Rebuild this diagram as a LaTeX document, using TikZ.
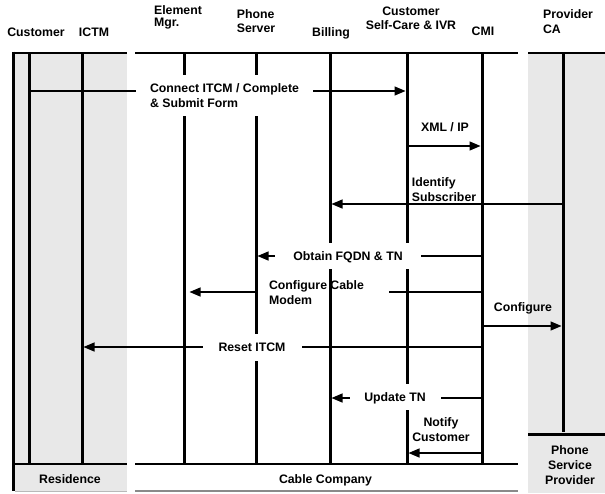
\documentclass[tikz,border=0pt]{standalone}
\usepackage{fontspec}
\setmainfont{Liberation Sans}
\usetikzlibrary{arrows.meta}
\definecolor{panel}{HTML}{E8E8E8}
\definecolor{baseln}{HTML}{8A8A8A}
\begin{document}
\begin{tikzpicture}[x=1pt,y=-1pt,
  txt/.style={font=\fontsize{12.3}{15}\selectfont\bfseries, inner sep=0pt},
  one/.style={txt, text depth=0pt},
  hdr/.style={font=\fontsize{12.3}{14}\selectfont\bfseries, inner sep=0pt},
  life/.style={line width=3pt},
  bar/.style={line width=2.8pt},
  msg/.style={line width=1.3pt, -{Triangle[length=11pt,width=9pt]}, shorten >=1.5pt},
  plainmsg/.style={line width=1.3pt},
  mask/.style={fill=white}]
\useasboundingbox (0,0) rectangle (605,493);
% panels
\fill[panel] (13,53) rectangle (127,491);
\fill[panel] (528,53) rectangle (605,493);
% lifeline anchors
\coordinate (bot) at (0,464);
\coordinate (pbot) at (0,432);
\coordinate (cust) at (29,53);
\coordinate (ictm) at (82,53);
\coordinate (elem) at (184,53);
\coordinate (phone) at (256,53);
\coordinate (bill) at (330,53);
\coordinate (scare) at (407,53);
\coordinate (cmi) at (482,53);
\coordinate (prov) at (563,53);
% lifelines
\foreach \l in {cust,ictm,elem,phone,bill,scare,cmi}
  \draw[life] (\l) -- (\l |- bot);
\draw[life] (prov) -- (prov |- pbot);
% message heights
\coordinate (m1) at (0,91);
\coordinate (m2) at (0,146);
\coordinate (m3) at (0,204);
\coordinate (m4) at (0,256);
\coordinate (m5) at (0,292);
\coordinate (m6) at (0,326);
\coordinate (m7) at (0,347);
\coordinate (m8) at (0,398);
\coordinate (m9) at (0,453);
% messages
\draw[msg] (cust |- m1) -- (scare |- m1);
\draw[msg] (scare |- m2) -- (cmi |- m2);
\draw[msg] (prov |- m3) -- (bill |- m3);
\draw[msg] (cmi |- m4) -- (phone |- m4);
\node[txt, align=left] (l5) at (316.5,292.5) {Configure Cable\\Modem};
\draw[plainmsg] (cmi |- m5) -- ([xshift=25pt]l5.east |- m5);
\draw[msg, shorten >=5.5pt] ([xshift=-11pt]l5.west |- m5) -- (elem |- m5);
\draw[msg] (cmi |- m6) -- (prov |- m6);
\draw[msg] (cmi |- m7) -- (ictm |- m7);
\draw[msg] (cmi |- m8) -- (bill |- m8);
\draw[msg] (cmi |- m9) -- (scare |- m9);
% labels
\node[txt, mask, align=left, inner xsep=14pt, inner ysep=8.5pt] (l1) at (224.5,95.8) {Connect ITCM / Complete\\\& Submit Form};
\node[one] (l2) at (445,127) {XML / IP};
\node[txt, align=left] (l3) at (444,189.5) {Identify\\Subscriber};
\node[one, mask, inner xsep=18pt, minimum height=26pt] (l4) at (348,256) {Obtain FQDN \& TN};
\node[one] (l6) at (523,307) {Configure};
\node[one, mask, minimum width=99pt, minimum height=27pt] (l7) at (252,347.5) {Reset ITCM};
\node[one, mask, minimum width=91pt, minimum height=26pt] (l8) at (395,397) {Update TN};
\node[txt, align=center] (l9) at (441,429.2) {Notify\\Customer};
% headers
\node[hdr, text depth=0pt] (hcust) at (36,32.2) {Customer};
\node[hdr, text depth=0pt] (hictm) at (94,32.2) {ICTM};
\node[hdr, align=left, font=\fontsize{12.3}{12.3}\selectfont\bfseries] (helem) at (178,17.2) {Element\\Mgr.};
\node[hdr, align=left] (hphone) at (256,20.7) {Phone\\Server};
\node[hdr, text depth=0pt] (hbill) at (331,31.7) {Billing};
\node[hdr, align=center] (hscare) at (411,18.3) {Customer\\Self-Care \& IVR};
\node[hdr, text depth=0pt] (hcmi) at (483,31.7) {CMI};
\node[hdr, align=left, font=\fontsize{12.3}{15}\selectfont\bfseries] (hprov) at (568,21.2) {Provider\\CA};
% bars
\draw[bar] (12,53) -- (127,53);
\draw[bar] (135,53) -- (518,53);
\draw[bar] (528,53) -- (605,53);
\draw[line width=2.8pt] (13.8,51.6) -- (13.8,491);
\draw[bar] (12.4,464) -- (127,464);
\draw[bar] (135,464) -- (518,464);
\draw[bar] (528,434.5) -- (605,434.5);
\draw[line width=1.2pt, baseln] (135,491) -- (518,491);
\draw[line width=1pt, gray!55] (15,491) -- (127,491);
% panel labels
\node[one] (lres) at (70,479.5) {Residence};
\node[one] (lcab) at (325.5,479) {Cable Company};
\node[txt, align=center] (lpsp) at (570,465) {Phone\\Service\\Provider};
\end{tikzpicture}
\end{document}
